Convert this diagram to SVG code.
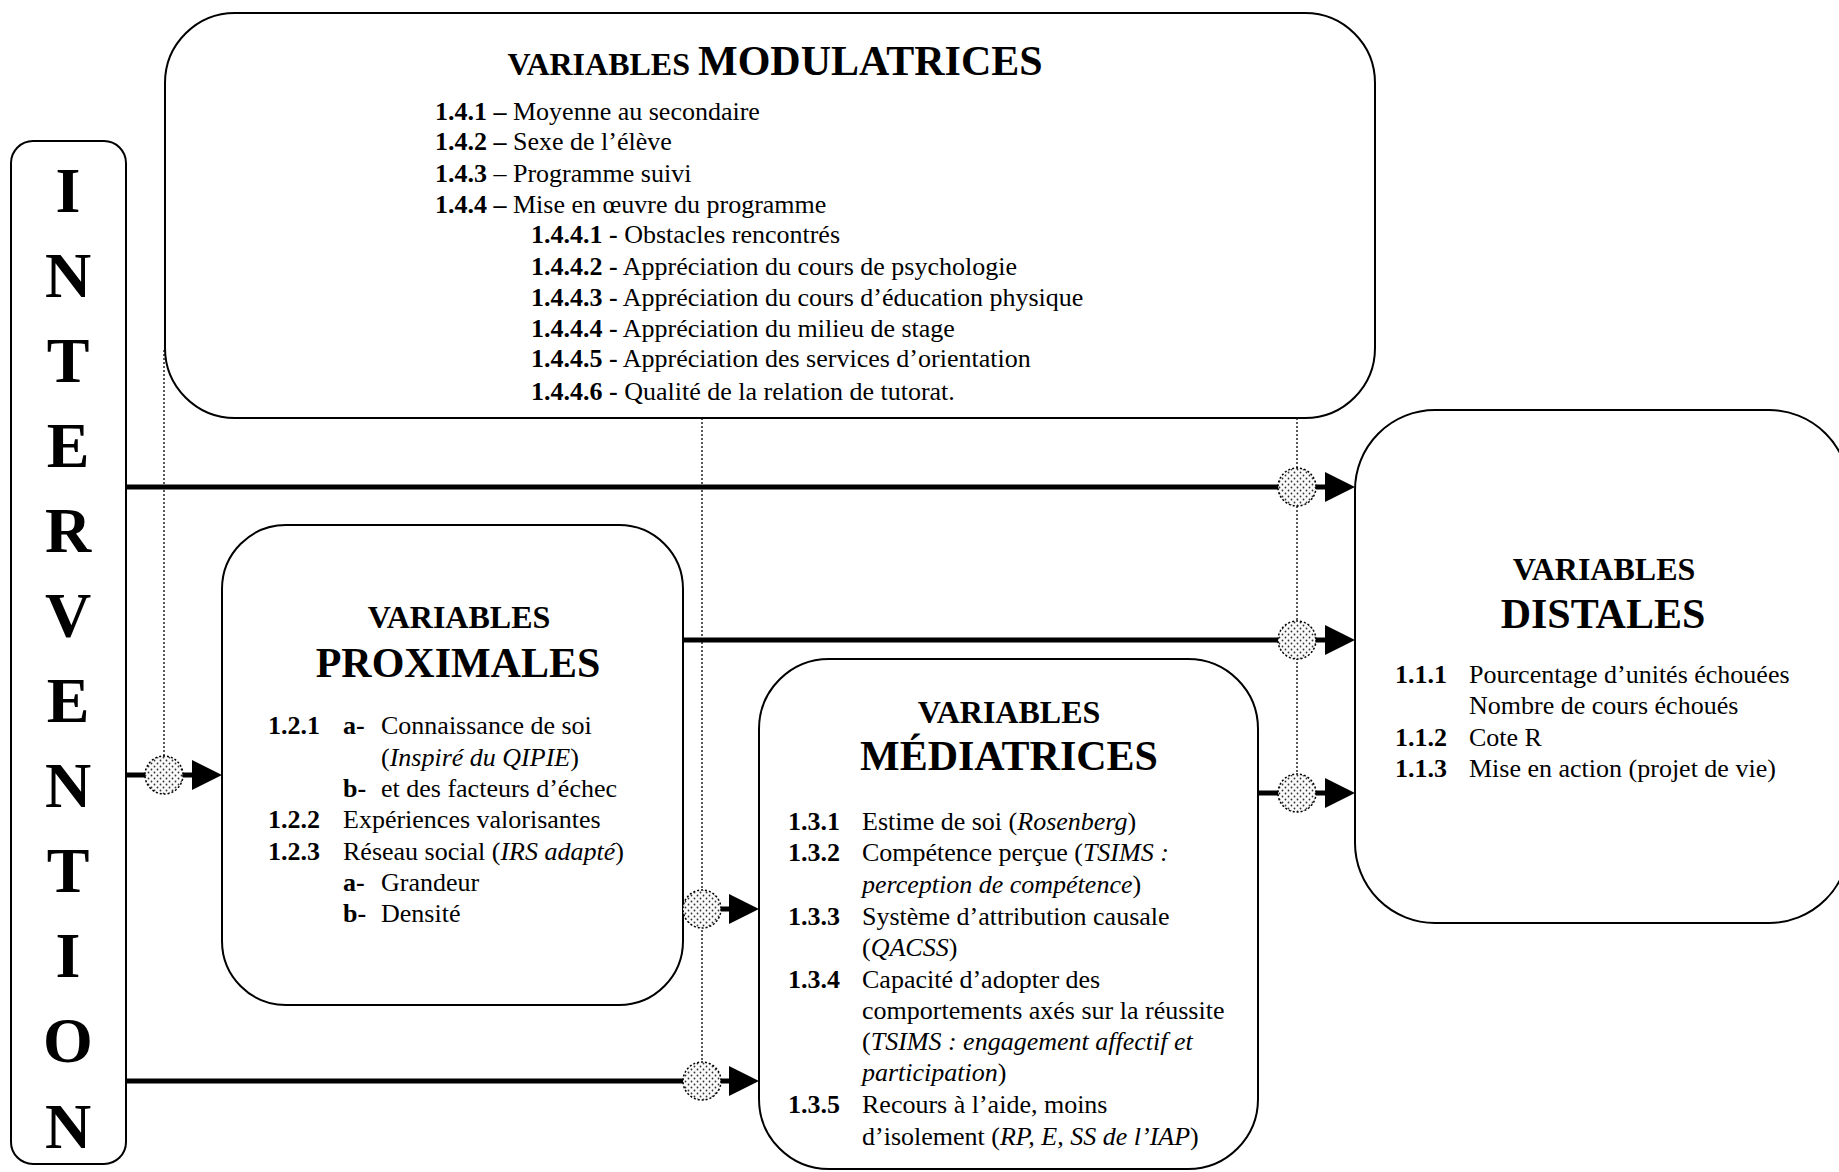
<svg xmlns="http://www.w3.org/2000/svg" width="1839" height="1172" viewBox="0 0 1839 1172">
<style>
.box{fill:#fff;stroke:#000;stroke-width:2}
.t{font-family:"Liberation Serif","Times New Roman",serif;font-size:26px;fill:#000}
.b{font-weight:bold}
.i{font-style:italic}
.h1{font-family:"Liberation Serif","Times New Roman",serif;font-size:32px;font-weight:bold;text-anchor:middle}
.h2{font-family:"Liberation Serif","Times New Roman",serif;font-size:42px;font-weight:bold;text-anchor:middle}
.big{font-family:"Liberation Serif","Times New Roman",serif;font-size:64px;font-weight:bold;text-anchor:middle}
.arr{fill:none;stroke:#000;stroke-width:5}
.dot{fill:none;stroke:#000;stroke-width:1.3;stroke-dasharray:2 2}
.node{fill:url(#stip);stroke:#000;stroke-width:1.5;stroke-dasharray:2 2}
</style>
<defs>
<pattern id="stip" width="6" height="6" patternUnits="userSpaceOnUse">
<rect width="6" height="6" fill="#fafafa"/>
<circle cx="1.5" cy="1.5" r="0.9" fill="#333"/>
<circle cx="4.5" cy="4.5" r="0.9" fill="#333"/>
</pattern>
<marker id="ah" markerUnits="userSpaceOnUse" markerWidth="32" markerHeight="32" refX="0" refY="15" orient="auto">
<path d="M0,0 L30,15 L0,30 z" fill="#000"/>
</marker>
</defs>
<rect width="1839" height="1172" fill="#fff"/>

<g id="modulatrices">
<rect class="box" x="165" y="13" width="1210" height="405" rx="70" ry="70"/>
<text x="775" y="75" text-anchor="middle" font-family="Liberation Serif, Times New Roman, serif" font-weight="bold"><tspan font-size="32">VARIABLES </tspan><tspan font-size="42">MODULATRICES</tspan></text>
<text class="t" x="435" y="120"><tspan class="b">1.4.1 –</tspan> Moyenne au secondaire</text>
<text class="t" x="435" y="150"><tspan class="b">1.4.2 –</tspan> Sexe de l’élève</text>
<text class="t" x="435" y="182"><tspan class="b">1.4.3</tspan> – Programme suivi</text>
<text class="t" x="435" y="213"><tspan class="b">1.4.4 –</tspan> Mise en œuvre du programme</text>
<text class="t" x="531" y="243"><tspan class="b">1.4.4.1 -</tspan> Obstacles rencontrés</text>
<text class="t" x="531" y="275"><tspan class="b">1.4.4.2 -</tspan> Appréciation du cours de psychologie</text>
<text class="t" x="531" y="306"><tspan class="b">1.4.4.3 -</tspan> Appréciation du cours d’éducation physique</text>
<text class="t" x="531" y="337"><tspan class="b">1.4.4.4 -</tspan> Appréciation du milieu de stage</text>
<text class="t" x="531" y="367"><tspan class="b">1.4.4.5 -</tspan> Appréciation des services d’orientation</text>
<text class="t" x="531" y="400"><tspan class="b">1.4.4.6 -</tspan> Qualité de la relation de tutorat.</text>
</g>

<g id="intervention">
<rect class="box" x="11" y="141" width="115" height="1023" rx="22" ry="22"/>
<text class="big" x="68" y="212">I</text>
<text class="big" x="68" y="297">N</text>
<text class="big" x="68" y="382">T</text>
<text class="big" x="68" y="467">E</text>
<text class="big" x="68" y="552">R</text>
<text class="big" x="68" y="637">V</text>
<text class="big" x="68" y="722">E</text>
<text class="big" x="68" y="807">N</text>
<text class="big" x="68" y="892">T</text>
<text class="big" x="68" y="977">I</text>
<text class="big" x="68" y="1062">O</text>
<text class="big" x="68" y="1148">N</text>
</g>

<g id="proximales">
<rect class="box" x="222" y="525" width="461" height="480" rx="64" ry="64"/>
<text class="h1" x="459" y="628">VARIABLES</text>
<text class="h2" x="458" y="677">PROXIMALES</text>
<text class="t b" x="268" y="734">1.2.1</text>
<text class="t b" x="343" y="734">a-</text>
<text class="t" x="381" y="734">Connaissance de soi</text>
<text class="t" x="381" y="766">(<tspan class="i">Inspiré du QIPIE</tspan>)</text>
<text class="t b" x="343" y="797">b-</text>
<text class="t" x="381" y="797">et des facteurs d’échec</text>
<text class="t b" x="268" y="828">1.2.2</text>
<text class="t" x="343" y="828">Expériences valorisantes</text>
<text class="t b" x="268" y="860">1.2.3</text>
<text class="t" x="343" y="860">Réseau social (<tspan class="i">IRS adapté</tspan>)</text>
<text class="t b" x="343" y="891">a-</text>
<text class="t" x="381" y="891">Grandeur</text>
<text class="t b" x="343" y="922">b-</text>
<text class="t" x="381" y="922">Densité</text>
</g>

<g id="mediatrices">
<rect class="box" x="759" y="659" width="499" height="510" rx="70" ry="70"/>
<text class="h1" x="1009" y="723">VARIABLES</text>
<text class="h2" x="1009" y="770">MÉDIATRICES</text>
<text class="t b" x="788" y="830">1.3.1</text>
<text class="t" x="862" y="830">Estime de soi (<tspan class="i">Rosenberg</tspan>)</text>
<text class="t b" x="788" y="861">1.3.2</text>
<text class="t" x="862" y="861">Compétence perçue (<tspan class="i">TSIMS :</tspan></text>
<text class="t" x="862" y="893"><tspan class="i">perception de compétence</tspan>)</text>
<text class="t b" x="788" y="925">1.3.3</text>
<text class="t" x="862" y="925">Système d’attribution causale</text>
<text class="t" x="862" y="956">(<tspan class="i">QACSS</tspan>)</text>
<text class="t b" x="788" y="988">1.3.4</text>
<text class="t" x="862" y="988">Capacité d’adopter des</text>
<text class="t" x="862" y="1019">comportements axés sur la réussite</text>
<text class="t" x="862" y="1050">(<tspan class="i">TSIMS : engagement affectif et</tspan></text>
<text class="t" x="862" y="1081"><tspan class="i">participation</tspan>)</text>
<text class="t b" x="788" y="1113">1.3.5</text>
<text class="t" x="862" y="1113">Recours à l’aide, moins</text>
<text class="t" x="862" y="1145">d’isolement (<tspan class="i">RP, E, SS de l’IAP</tspan>)</text>
</g>

<g id="distales">
<rect class="box" x="1355" y="410" width="494" height="513" rx="80" ry="80"/>
<text class="h1" x="1604" y="580">VARIABLES</text>
<text class="h2" x="1603" y="628">DISTALES</text>
<text class="t b" x="1395" y="683">1.1.1</text>
<text class="t" x="1469" y="683">Pourcentage d’unités échouées</text>
<text class="t" x="1469" y="714">Nombre de cours échoués</text>
<text class="t b" x="1395" y="746">1.1.2</text>
<text class="t" x="1469" y="746">Cote R</text>
<text class="t b" x="1395" y="777">1.1.3</text>
<text class="t" x="1469" y="777">Mise en action (projet de vie)</text>
</g>

<g id="connectors">
<path class="dot" d="M164,350 V775"/>
<path class="dot" d="M702,418 V1081"/>
<path class="dot" d="M1297,418 V793"/>
<path class="arr" d="M126,487 H1325" marker-end="url(#ah)"/>
<path class="arr" d="M683,640 H1325" marker-end="url(#ah)"/>
<path class="arr" d="M1258,793 H1325" marker-end="url(#ah)"/>
<path class="arr" d="M126,775 H192" marker-end="url(#ah)"/>
<path class="arr" d="M126,1081 H729" marker-end="url(#ah)"/>
<path class="arr" d="M683,909 H729" marker-end="url(#ah)"/>
<circle class="node" cx="1297" cy="487" r="19"/>
<circle class="node" cx="1297" cy="640" r="19"/>
<circle class="node" cx="1297" cy="793" r="19"/>
<circle class="node" cx="164" cy="775" r="19"/>
<circle class="node" cx="702" cy="909" r="19"/>
<circle class="node" cx="702" cy="1081" r="19"/>
</g>
</svg>
